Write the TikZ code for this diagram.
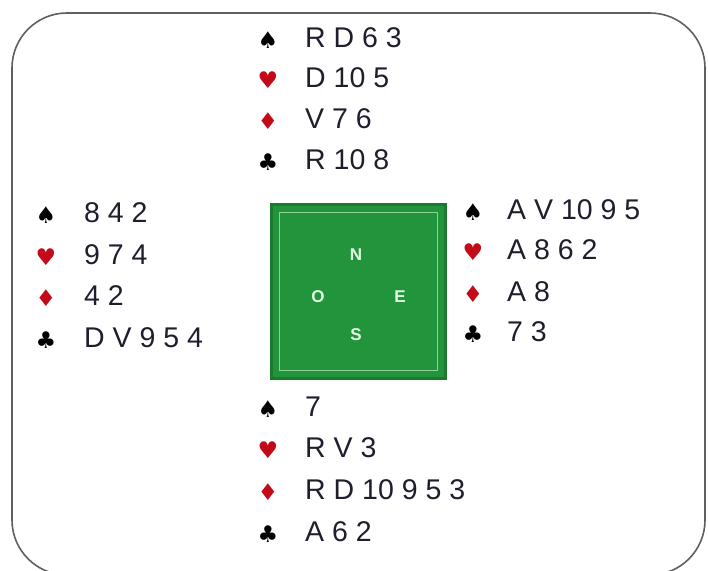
\documentclass[tikz,border=0pt]{standalone}
\usepackage{fontspec}
\setmainfont{Liberation Sans}
\newfontfamily\suitfont{DejaVu Sans}
\definecolor{suitred}{RGB}{195,10,25}
\definecolor{txtcol}{RGB}{30,30,45}
\definecolor{feltgreen}{RGB}{34,148,60}
\definecolor{feltrim}{RGB}{28,122,48}
\definecolor{feltline}{RGB}{140,210,150}
\definecolor{framecol}{RGB}{95,95,95}
\begin{document}
\begin{tikzpicture}[x=1pt,y=-1pt,
  cards/.style={anchor=west,inner sep=0pt,text=txtcol,font=\fontsize{28.5}{30}\selectfont},
  blk/.style={inner sep=0pt,text=black,font=\suitfont\fontsize{23}{24}\selectfont},
  rd/.style={inner sep=0pt,text=suitred,font=\suitfont\fontsize{23}{24}\selectfont},
  compass/.style={inner sep=0pt,text=white!90!green,font=\bfseries\fontsize{17}{18}\selectfont}]
\useasboundingbox (0,0) rectangle (708,570);
\begin{scope}
\clip (0,0) rectangle (708,570);
\draw[framecol,line width=1.6pt,rounded corners=55pt] (12,13) rectangle (705,575);
\end{scope}
% table
\node[draw=feltrim,line width=3pt,fill=feltgreen,minimum size=174pt,inner sep=0pt] (table) at (358.5,291.5) {};
\node[draw=feltline,line width=1pt,minimum size=158pt,inner sep=0pt] (inner) at (table.center) {};
\node[compass] (N) at (356,255) {N};
\node[compass] (O) at (318,297) {O};
\node[compass] (E) at (400,297) {E};
\node[compass] (S) at (356,335) {S};
% North
\node[blk] (ns) at (268,40) {♠};
\node[rd]  (nh) at (268,80) {♥};
\node[rd]  (nd) at (268,121) {♦};
\node[blk] (nc) at (268,162) {♣};
\node[cards] (nst) at (305,38) {R D 6 3};
\node[cards] (nht) at (305,78) {D 10 5};
\node[cards] (ndt) at (305,119) {V 7 6};
\node[cards] (nct) at (305,160) {R 10 8};
% West
\node[blk] (ws) at (46,215) {♠};
\node[rd]  (wh) at (46,257) {♥};
\node[rd]  (wd) at (46,298) {♦};
\node[blk] (wc) at (46,340) {♣};
\node[cards] (wst) at (84,213) {8 4 2};
\node[cards] (wht) at (84,255) {9 7 4};
\node[cards] (wdt) at (84,296) {4 2};
\node[cards] (wct) at (84,338) {D V 9 5 4};
% East
\node[blk] (es) at (473,212) {♠};
\node[rd]  (eh) at (473,252) {♥};
\node[rd]  (ed) at (473,294) {♦};
\node[blk] (ec) at (473,334) {♣};
\node[cards] (est) at (507,210) {A V 10 9 5};
\node[cards] (eht) at (507,250) {A 8 6 2};
\node[cards] (edt) at (507,292) {A 8};
\node[cards] (ect) at (507,332) {7 3};
% South
\node[blk] (ss) at (268,409) {♠};
\node[rd]  (sh) at (268,450) {♥};
\node[rd]  (sd) at (268,492) {♦};
\node[blk] (sc) at (268,534) {♣};
\node[cards] (sst) at (305,407) {7};
\node[cards] (sht) at (305,448) {R V 3};
\node[cards] (sdt) at (305,490) {R D 10 9 5 3};
\node[cards] (sct) at (305,532) {A 6 2};
\end{tikzpicture}
\end{document}
